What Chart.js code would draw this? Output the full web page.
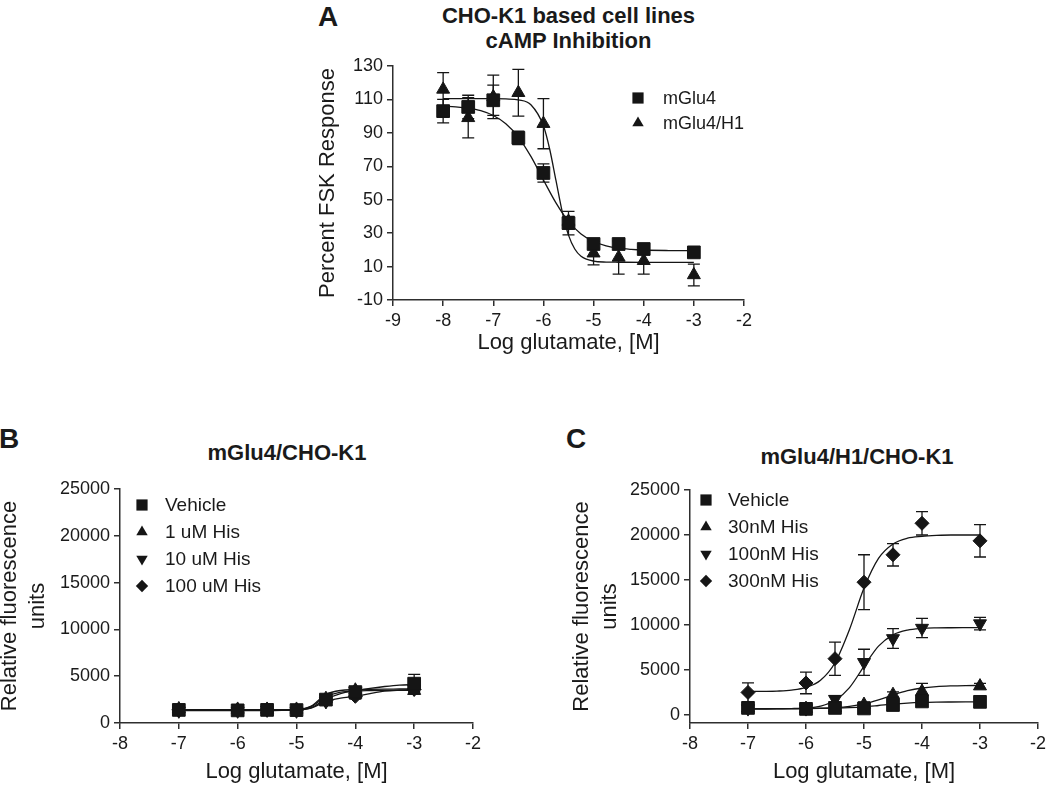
<!DOCTYPE html>
<html lang="en">
<head>
<meta charset="utf-8">
<title>mGlu4 - Log glutamate</title>
<script src="https://cdn.jsdelivr.net/npm/chart.js@4.4.1/dist/chart.umd.min.js"></script>
<style>
  body {
    margin: 0;
    width: 1050px;
    height: 785px;
    position: relative;
    overflow: hidden;
    background: #fff;
    font-family: "Liberation Sans", Arial, sans-serif;
    color: #1a1a1a;
  }
  canvas { position: absolute; }
  .letra { position: absolute; font-size: 28px; font-weight: bold; line-height: 1; }
  .titulo { position: absolute; font-size: 22px; font-weight: bold; line-height: 25px; text-align: center; white-space: nowrap; }
</style>
</head>
<body>
<div class="letra" style="left:318px;top:3px">A</div>
<div class="titulo" style="left:393px;top:3px;width:351px">CHO-K1 based cell lines<br>cAMP Inhibition</div>
<canvas id="graficoA" width="500" height="385" style="left:280px;top:0px"></canvas>

<div class="letra" style="left:-1px;top:425px">B</div>
<div class="titulo" style="left:187px;top:440px;width:200px">mGlu4/CHO-K1</div>
<canvas id="graficoB" width="500" height="365" style="left:-5px;top:420px"></canvas>

<div class="letra" style="left:566px;top:425px">C</div>
<div class="titulo" style="left:757px;top:444px;width:200px">mGlu4/H1/CHO-K1</div>
<canvas id="graficoC" width="490" height="365" style="left:560px;top:420px"></canvas>

<script>
// ---- DADOS ----

// marcas dos eixos
const ticksXA = [-9, -8, -7, -6, -5, -4, -3, -2];
const ticksYA = [-10, 10, 30, 50, 70, 90, 110, 130];
const ticksXBC = [-8, -7, -6, -5, -4, -3, -2];
const ticksYBC = [0, 5000, 10000, 15000, 20000, 25000];

// Painel A: inibição de cAMP (% resposta FSK)
const logGluA = [-8, -7.5, -7, -6.5, -6, -5.5, -5, -4.5, -4, -3];
const mGlu4A = [103, 105.5, 109.5, 87, 66, 36, 23.5, 23.5, 20.5, 18.5];
const mGlu4AErro = [7, 7, 9, 4, 5.5, 7, 2.5, 1.5, 1.5, 1.5];
const mGlu4H1A = [116, 99, 111.5, 114, 95.5, 37, 18, 15.5, 13.5, 5];
const mGlu4H1AErro = [10, 12, 13, 14, 15, 3, 7, 10, 8, 6.5];

// curvas ajustadas
const curvaXA = [-8, -7.75, -7.5, -7.25, -7, -6.75, -6.5, -6.25, -6, -5.75, -5.5, -5.25, -5, -4.75, -4.5, -4.25, -4, -3.5, -3];
const curvaMGlu4A = [106, 105.6, 104.8, 103.3, 100.4, 95.5, 87.5, 75.9, 61.8, 48.1, 37, 29.5, 25, 22.4, 21, 20.3, 19.9, 19.6, 19.5];
const curvaXH1A = [-8, -7.5, -7, -6.75, -6.5, -6.25, -6, -5.875, -5.75, -5.625, -5.5, -5.375, -5.25, -5, -4.75, -4.5, -4, -3.5, -3];
const curvaMGlu4H1A = [110.5, 110.5, 110.5, 110.3, 109.7, 106.8, 94.2, 80.2, 61.5, 42.8, 28.8, 20.5, 16.2, 13.3, 12.7, 12.6, 12.5, 12.5, 12.5];

// Painéis B e C: mesmas concentrações de glutamato
const logGluBC = [-7, -6, -5.5, -5, -4.5, -4, -3];

// Painel B: mGlu4/CHO-K1
const veiculoB = [1400, 1350, 1400, 1380, 2500, 3300, 4200];
const veiculoBErro = [150, 150, 150, 150, 250, 300, 1000];
const his1uMB = [1500, 1450, 1450, 1450, 2600, 3500, 3450];
const his1uMBErro = [150, 150, 150, 150, 250, 250, 300];
const his10uMB = [1300, 1300, 1400, 1300, 2300, 3400, 3650];
const his10uMBErro = [150, 150, 150, 150, 250, 250, 300];
const his100uMB = [1400, 1400, 1450, 1400, 2400, 2850, 3600];
const his100uMBErro = [150, 150, 150, 150, 250, 300, 300];

const curvaXB = [-7, -6, -5.5, -5.25, -5, -4.75, -4.5, -4.25, -4, -3.75, -3.5, -3.25, -3];
const curvaVeiculoB = [1380, 1380, 1380, 1385, 1400, 1650, 2550, 3150, 3450, 3700, 3900, 4050, 4100];
const curva1uMB = [1420, 1420, 1420, 1425, 1450, 1750, 2800, 3300, 3420, 3460, 3480, 3490, 3500];
const curva10uMB = [1330, 1330, 1335, 1340, 1360, 1800, 3050, 3480, 3560, 3600, 3620, 3630, 3640];
const curva100uMB = [1390, 1390, 1390, 1395, 1420, 1600, 2300, 2650, 2850, 3150, 3400, 3500, 3550];

// Painel C: mGlu4/H1/CHO-K1
const veiculoC = [780, 670, 780, 720, 1100, 1500, 1450];
const veiculoCErro = [250, 150, 150, 150, 200, 250, 200];
const his30nMC = [750, 700, 800, 1150, 2250, 2600, 3200];
const his30nMCErro = [200, 150, 200, 300, 300, 900, 300];
const his100nMC = [700, 700, 1750, 5850, 8500, 9650, 10150];
const his100nMCErro = [200, 150, 400, 1450, 1100, 1070, 700];
const his300nMC = [2500, 3550, 6250, 14750, 17800, 21300, 19350];
const his300nMCErro = [1050, 1200, 1850, 3050, 1250, 1300, 1800];

const curvaXC = [-7, -6.75, -6.5, -6.25, -6, -5.75, -5.5, -5.25, -5, -4.75, -4.5, -4.25, -4, -3.75, -3.5, -3.25, -3];
const curvaVeiculoC = [700, 700, 700, 702, 705, 718, 745, 798, 896, 1043, 1200, 1319, 1389, 1422, 1437, 1445, 1448];
const curva30nMC = [700, 701, 703, 709, 720, 750, 810, 948, 1216, 1662, 2210, 2686, 2990, 3150, 3224, 3258, 3270];
const curva100nMC = [650, 655, 662, 687, 761, 981, 1600, 3041, 5400, 7640, 8900, 9430, 9610, 9670, 9690, 9698, 9700];
const curva300nMC = [2600, 2620, 2650, 2750, 3050, 3850, 5800, 9500, 14100, 17400, 19000, 19650, 19850, 19950, 20000, 20000, 20000];

// ---- ESTILO ----
const FONTE = '"Liberation Sans", Arial, sans-serif';
const TEXTO = "#1a1a1a";
const EIXO = "#2e2e2e";
const PRETO = "#151515";

Chart.defaults.font.family = FONTE;
Chart.defaults.color = TEXTO;

function pontos(label, xs, ys, erros, estilo, raio, rotacao) {
  return {
    label: label,
    order: 1,
    showLine: false,
    data: xs.map((x, i) => ({ x: x, y: ys[i] })),
    erros: erros,
    pointStyle: estilo,
    pointRadius: raio,
    pointHoverRadius: raio,
    pointRotation: rotacao || 0,
    pointBackgroundColor: PRETO,
    pointBorderColor: PRETO,
    pointBorderWidth: 1,
  };
}

function curva(xs, ys) {
  return {
    order: 2,
    showLine: true,
    data: xs.map((x, i) => ({ x: x, y: ys[i] })),
    borderColor: PRETO,
    borderWidth: 1.3,
    pointRadius: 0,
    pointHoverRadius: 0,
    cubicInterpolationMode: "monotone",
    fill: false,
  };
}

// barras de erro (média ± erro) desenhadas pelas escalas do gráfico
const barrasErro = {
  id: "barrasErro",
  beforeDatasetsDraw(chart) {
    const { ctx } = chart;
    const x = chart.scales.x;
    const y = chart.scales.y;
    ctx.save();
    ctx.strokeStyle = PRETO;
    ctx.lineWidth = 1.3;
    chart.data.datasets.forEach((ds) => {
      if (!ds.erros) return;
      ds.data.forEach((p, j) => {
        const e = ds.erros[j];
        const px = x.getPixelForValue(p.x);
        const topo = y.getPixelForValue(p.y + e);
        const base = y.getPixelForValue(p.y - e);
        ctx.beginPath();
        ctx.moveTo(px, topo);
        ctx.lineTo(px, base);
        ctx.moveTo(px - 6, topo);
        ctx.lineTo(px + 6, topo);
        ctx.moveTo(px - 6, base);
        ctx.lineTo(px + 6, base);
        ctx.stroke();
      });
    });
    ctx.restore();
  },
};

// legenda com os mesmos símbolos dos pontos
const legendaPontos = {
  id: "legendaPontos",
  afterDraw(chart, args, opts) {
    const ctx = chart.ctx;
    const itens = chart.data.datasets.filter((ds) => ds.label);
    ctx.save();
    ctx.fillStyle = PRETO;
    ctx.strokeStyle = PRETO;
    ctx.font = opts.tamanho + "px " + FONTE;
    ctx.textBaseline = "middle";
    ctx.textAlign = "left";
    itens.forEach((ds, i) => {
      const y = opts.y + i * opts.passo;
      Chart.helpers.drawPoint(
        ctx,
        { pointStyle: ds.pointStyle, rotation: ds.pointRotation, radius: ds.pointRadius * 0.88, borderWidth: 0 },
        opts.x,
        y,
      );
      ctx.fillStyle = TEXTO;
      ctx.fillText(ds.label, opts.xTexto, y + 1);
      ctx.fillStyle = PRETO;
    });
    ctx.restore();
  },
};

function grafico(id, conjuntos, cfg) {
  return new Chart(document.getElementById(id), {
    type: "scatter",
    data: { datasets: conjuntos },
    options: {
      responsive: false,
      animation: false,
      events: [],
      layout: { padding: cfg.padding },
      plugins: {
        legend: { display: false },
        tooltip: { enabled: false },
        legendaPontos: cfg.legenda,
      },
      scales: {
        x: {
          type: "linear",
          min: cfg.ticksX[0],
          max: cfg.ticksX[cfg.ticksX.length - 1],
          afterBuildTicks: (escala) => {
            escala.ticks = cfg.ticksX.map((v) => ({ value: v }));
          },
          ticks: {
            padding: 4,
            font: { size: 18 },
            color: TEXTO,
            callback: (v) => String(v),
          },
          grid: { drawOnChartArea: false, tickLength: 6, color: EIXO, lineWidth: 1.5 },
          border: { color: EIXO, width: 1.5 },
          title: {
            display: true,
            text: "Log glutamate, [M]",
            font: { size: 22 },
            color: TEXTO,
            padding: { top: 0, bottom: cfg.padTituloX },
          },
          afterFit: (escala) => {
            escala.height = cfg.alturaX;
          },
        },
        y: {
          type: "linear",
          min: cfg.yMin,
          max: cfg.ticksY[cfg.ticksY.length - 1],
          afterBuildTicks: (escala) => {
            escala.ticks = cfg.ticksY.map((v) => ({ value: v }));
          },
          ticks: {
            padding: 4,
            font: { size: 18 },
            color: TEXTO,
            callback: (v) => String(v),
          },
          grid: { drawOnChartArea: false, tickLength: 6, color: EIXO, lineWidth: 1.5 },
          border: { color: EIXO, width: 1.5 },
          title: {
            display: true,
            text: cfg.tituloY,
            font: { size: 22, lineHeight: 1.27 },
            color: TEXTO,
            padding: { top: cfg.padTituloY, bottom: 0 },
          },
          afterFit: (escala) => {
            escala.width = cfg.larguraY;
          },
        },
      },
    },
    plugins: [barrasErro, legendaPontos],
  });
}

// ---- GRÁFICO A ----
const graficoA = grafico(
  "graficoA",
  [
    pontos("mGlu4", logGluA, mGlu4A, mGlu4AErro, "rect", 9),
    pontos("mGlu4/H1", logGluA, mGlu4H1A, mGlu4H1AErro, "triangle", 7.5),
    curva(curvaXA, curvaMGlu4A),
    curva(curvaXH1A, curvaMGlu4H1A),
  ],
  {
    padding: { top: 66, left: 0, right: 36, bottom: 25 },
    ticksX: ticksXA,
    ticksY: ticksYA,
    yMin: -10,
    larguraY: 113,
    alturaX: 60,
    padTituloX: 4,
    padTituloY: 34,
    tituloY: "Percent FSK Response",
    legenda: { x: 358, xTexto: 383, y: 98, passo: 25, tamanho: 18 },
  },
);

// ---- GRÁFICO B ----
const graficoB = grafico(
  "graficoB",
  [
    pontos("Vehicle", logGluBC, veiculoB, veiculoBErro, "rect", 9),
    pontos("1 uM His", logGluBC, his1uMB, his1uMBErro, "triangle", 7.5),
    pontos("10 uM His", logGluBC, his10uMB, his10uMBErro, "triangle", 7.5, 180),
    pontos("100 uM His", logGluBC, his100uMB, his100uMBErro, "rectRot", 7),
    curva(curvaXB, curvaVeiculoB),
    curva(curvaXB, curva1uMB),
    curva(curvaXB, curva10uMB),
    curva(curvaXB, curva100uMB),
  ],
  {
    padding: { top: 69, left: 0, right: 22, bottom: 0 },
    ticksX: ticksXBC,
    ticksY: ticksYBC,
    yMin: 0,
    larguraY: 125,
    alturaX: 62,
    padTituloX: 0,
    padTituloY: 1,
    tituloY: ["Relative fluorescence", "units"],
    legenda: { x: 147, xTexto: 170, y: 85, passo: 27, tamanho: 19 },
  },
);

// ---- GRÁFICO C ----
const graficoC = grafico(
  "graficoC",
  [
    pontos("Vehicle", logGluBC, veiculoC, veiculoCErro, "rect", 9),
    pontos("30nM His", logGluBC, his30nMC, his30nMCErro, "triangle", 7.5),
    pontos("100nM His", logGluBC, his100nMC, his100nMCErro, "triangle", 7.5, 180),
    pontos("300nM His", logGluBC, his300nMC, his300nMCErro, "rectRot", 7),
    curva(curvaXC, curvaVeiculoC),
    curva(curvaXC, curva30nMC),
    curva(curvaXC, curva100nMC),
    curva(curvaXC, curva300nMC),
  ],
  {
    padding: { top: 70, left: 0, right: 9, bottom: 0 },
    ticksX: ticksXBC,
    ticksY: ticksYBC,
    yMin: -900,
    larguraY: 130,
    alturaX: 62,
    padTituloX: 0,
    padTituloY: 8,
    tituloY: ["Relative fluorescence", "units"],
    legenda: { x: 146, xTexto: 168, y: 80, passo: 27, tamanho: 19 },
  },
);
</script>
</body>
</html>
